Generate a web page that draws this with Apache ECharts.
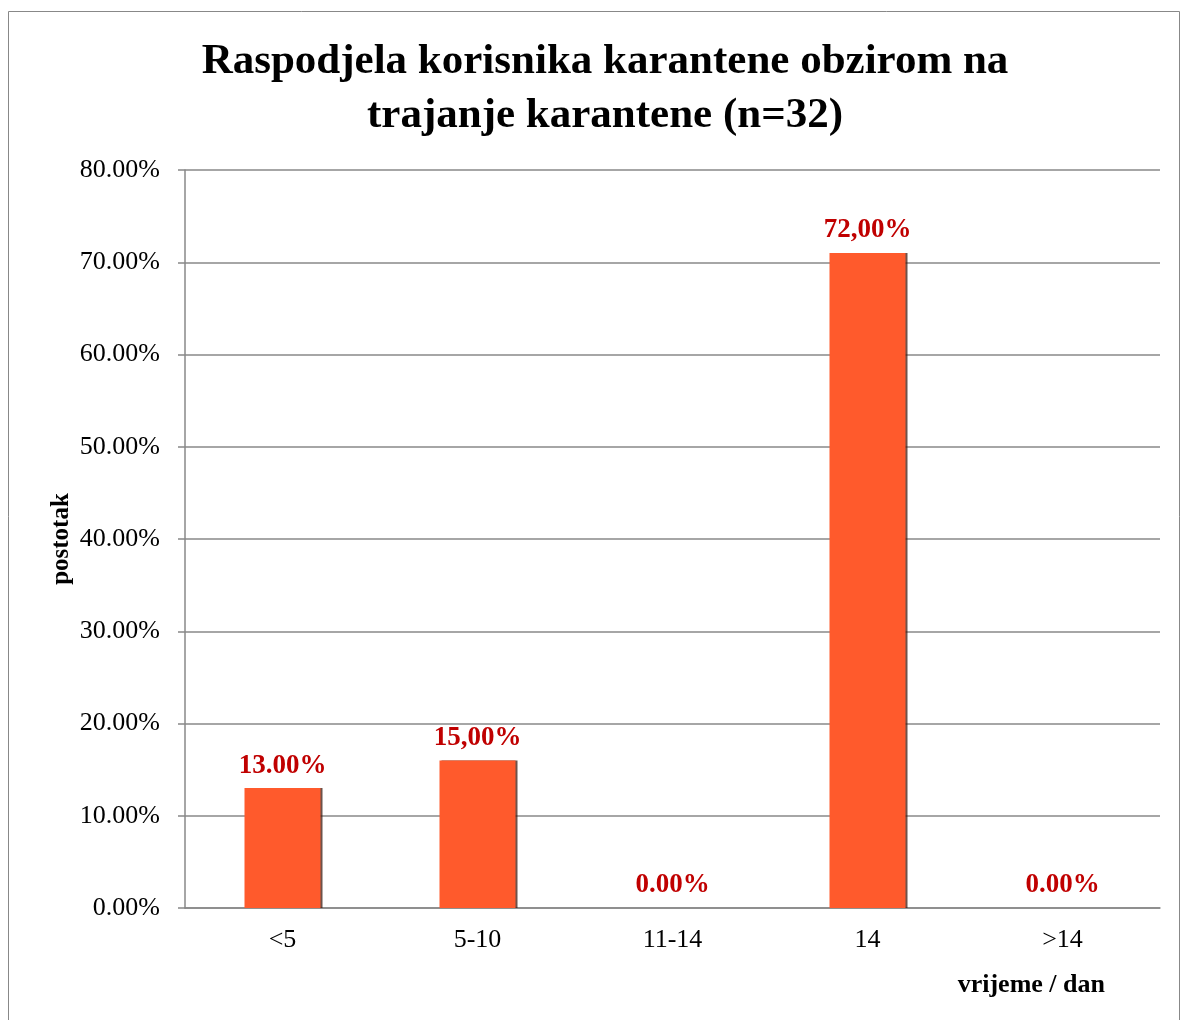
<!DOCTYPE html>
<html>
<head>
<meta charset="utf-8">
<script src="https://cdn.jsdelivr.net/npm/echarts@6/dist/echarts.min.js"></script>
<style>
  html, body { margin: 0; padding: 0; background: #fff; }
  #chart-container { width: 1182px; height: 1020px; }
</style>
</head>
<body>
<div id="chart-container"></div>
<script>
var categories = ['<5', '5-10', '11-14', '14', '>14'];
var values = [13, 16, 0, 71, 0];
var valueLabels = ['13.00%', '15,00%', '0.00%', '72,00%', '0.00%'];
var yTicks = [0, 10, 20, 30, 40, 50, 60, 70, 80];

var dom = document.getElementById('chart-container');
var myChart = echarts.init(dom, null, { renderer: 'canvas' });

var serif = '"Liberation Serif", "DejaVu Serif", serif';

var option = {
  animation: false,
  title: {
    text: 'Raspodjela korisnika karantene obzirom na\ntrajanje karantene (n=32)',
    left: 600,
    top: 30,
    textAlign: 'center',
    textStyle: {
      fontFamily: serif,
      fontWeight: 'bold',
      fontSize: 43,
      lineHeight: 54,
      color: '#000'
    }
  },
  graphic: [{
    type: 'rect',
    shape: { x: 8.5, y: 11.5, width: 1171, height: 1020 },
    style: { fill: 'none', stroke: '#888', lineWidth: 1 },
    silent: true
  }],
  grid: { left: 185, right: 22, top: 170, bottom: 112 },
  xAxis: {
    type: 'category',
    data: categories,
    name: 'vrijeme / dan',
    nameLocation: 'end',
    nameGap: 0,
    nameTextStyle: {
      fontFamily: serif, fontWeight: 'bold', fontSize: 26, color: '#000',
      align: 'right', verticalAlign: 'top', padding: [64, 55, 0, 0]
    },
    axisLine: { lineStyle: { color: '#888', width: 1.5 } },
    axisTick: { show: false },
    axisLabel: { fontFamily: serif, fontSize: 26, color: '#000', margin: 19 }
  },
  yAxis: {
    type: 'value',
    min: 0,
    max: 80,
    interval: 10,
    name: 'postotak',
    nameLocation: 'middle',
    nameGap: 111,
    nameMoveOverlap: false,
    nameRotate: 90,
    nameTextStyle: { fontFamily: serif, fontWeight: 'bold', fontSize: 25, color: '#000' },
    axisLine: { show: true, lineStyle: { color: '#888', width: 1.5 } },
    axisTick: { show: true, length: 7, lineStyle: { color: '#888', width: 1.5 } },
    axisLabel: {
      fontFamily: serif, fontSize: 26, color: '#000', margin: 25,
      formatter: function (v) { return yTicks.indexOf(v) >= 0 ? v.toFixed(2) + '%' : ''; }
    },
    splitLine: { lineStyle: { color: '#888', width: 1.5 } }
  },
  series: [{
    type: 'bar',
    data: values,
    barWidth: 76,
    itemStyle: {
      color: '#ff5a2c',
      borderWidth: 0,
      shadowColor: 'rgba(60,25,15,0.75)',
      shadowOffsetX: 2,
      shadowBlur: 0
    },
    label: {
      show: true,
      position: 'top',
      distance: 9,
      fontFamily: serif,
      fontWeight: 'bold',
      fontSize: 27,
      color: '#c00000',
      formatter: function (p) { return valueLabels[p.dataIndex]; }
    }
  }]
};

myChart.setOption(option);
window.addEventListener('resize', myChart.resize);
</script>
</body>
</html>
